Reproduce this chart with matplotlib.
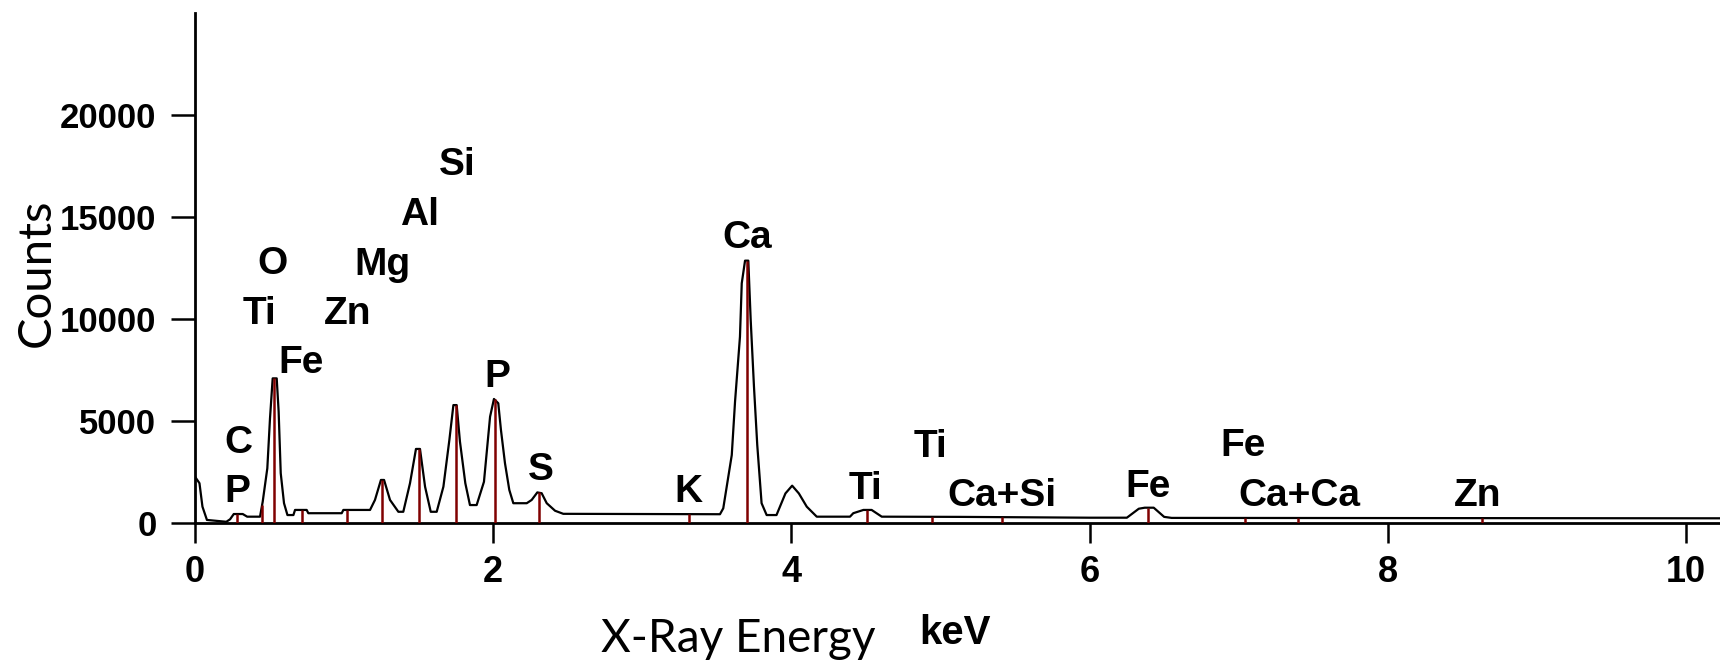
import matplotlib.pyplot as plt
from matplotlib import font_manager

# EDS spectrum
energy = [0.00, 0.03, 0.05, 0.08, 0.21, 0.235, 0.26, 0.32, 0.35, 0.436, 0.454, 0.485,
          0.503, 0.521, 0.548, 0.561, 0.575, 0.597, 0.62, 0.66, 0.671, 0.749, 0.76,
          0.984, 0.995, 1.174, 1.207, 1.247, 1.268, 1.308, 1.364, 1.397, 1.442, 1.482,
          1.509, 1.543, 1.581, 1.621, 1.666, 1.706, 1.733, 1.755, 1.777, 1.813, 1.844,
          1.889, 1.938, 1.979, 2.005, 2.034, 2.052, 2.079, 2.108, 2.135, 2.225, 2.258,
          2.296, 2.325, 2.359, 2.415, 2.47, 3.521, 3.543, 3.60, 3.622, 3.655, 3.667,
          3.689, 3.711, 3.727, 3.749, 3.771, 3.80, 3.834, 3.90, 3.96, 4.005, 4.05,
          4.103, 4.17, 4.393, 4.415, 4.483, 4.538, 4.606, 5.13, 6.0, 6.25, 6.33, 6.37,
          6.43, 6.50, 6.55, 10.3]
counts = [2270, 1950, 800, 150, 60, 180, 440, 440, 310, 310, 1040, 2680,
          5130, 7090, 7090, 5460, 2440, 970, 390, 390, 640, 640, 480,
          480, 640, 640, 1130, 2110, 2110, 1130, 550, 550, 1950, 3630,
          3630, 1780, 550, 550, 1780, 4070, 5780, 5780, 3990, 1950, 880,
          880, 2020, 5210, 6080, 5870, 4560, 2930, 1620, 970, 970, 1130,
          1500, 1460, 970, 600, 450, 430, 720, 3330, 5950, 9130, 11750,
          12860, 12860, 9950, 6680, 3820, 970, 390, 390, 1450, 1830, 1450,
          800, 310, 310, 480, 640, 640, 310, 300, 260, 260, 700, 750,
          750, 300, 250, 230]

# element marker lines (keV, top in counts)
line_kev = [0.28, 0.45, 0.53, 0.72, 1.02, 1.255, 1.50, 1.75, 2.01, 2.31, 3.31, 3.705,
            4.51, 4.94, 5.415, 6.395, 7.04, 7.40, 8.63]
line_top = [440, 900, 7090, 640, 640, 2110, 3630, 5780, 6080, 1500, 430, 12860,
            640, 310, 300, 750, 260, 260, 250]

# peak labels
label_text = ['C', 'P', 'O', 'Ti', 'Fe', 'Zn', 'Mg', 'Al', 'Si', 'P', 'S', 'K', 'Ca',
              'Ti', 'Ti', 'Ca+Si', 'Fe', 'Fe', 'Ca+Ca', 'Zn']
label_kev = [0.29, 0.285, 0.522, 0.43, 0.708, 1.024, 1.259, 1.504, 1.761, 2.027, 2.316,
             3.309, 3.702, 4.494, 4.935, 5.415, 6.39, 7.029, 7.405, 8.605]
label_cnt = [3420, 1040, 12200, 9750, 7350, 9750, 12160, 14610, 17060, 6680, 2110,
             1040, 13470, 1160, 3250, 830, 1290, 3280, 830, 830]

x_ticks = [0, 2, 4, 6, 8, 10]
y_ticks = [0, 5000, 10000, 15000, 20000]

names = {f.name for f in font_manager.fontManager.ttflist}
if 'Liberation Sans Narrow' in names:
    narrow, label_size, xtick_size = 'Liberation Sans Narrow', 32, 30
else:
    narrow, label_size, xtick_size = 'Liberation Sans', 28, 26

fig = plt.figure(figsize=(17.2, 6.66), dpi=100)
ax = fig.add_axes([195 / 1720, 143 / 666, 1525 / 1720, 510 / 666])

ax.plot(energy, counts, color='black', linewidth=1.6, zorder=2)
ax.vlines(line_kev, 0, line_top, colors='#800000', linewidth=1.8, zorder=3)

for t, x, y in zip(label_text, label_kev, label_cnt):
    ax.text(x, y, t, ha='center', va='baseline', fontsize=label_size,
            fontfamily=narrow, fontweight='bold')

ax.set_xlim(0, 10.228)
ax.set_ylim(0, 25000)
ax.spines['top'].set_visible(False)
ax.spines['right'].set_visible(False)
ax.spines['left'].set_linewidth(2)
ax.spines['bottom'].set_linewidth(2)

ax.set_xticks(x_ticks)
ax.set_yticks(y_ticks)
ax.set_xticklabels([str(v) for v in x_ticks], fontfamily=narrow, fontweight='bold',
                   fontsize=xtick_size)
ax.set_yticklabels([str(v) for v in y_ticks], fontfamily='Liberation Sans',
                   fontweight='bold', fontsize=25)
ax.tick_params(axis='x', length=14.4, width=1.8, pad=8.6)
ax.tick_params(axis='y', length=17, width=1.8, pad=10.8)

fig.text(37 / 1720, 393 / 666, 'Counts', rotation=90, ha='center', va='center',
         fontfamily='Lato', fontsize=34)
fig.text(738 / 1720, 14.3 / 666, 'X-Ray Energy', ha='center', va='baseline',
         fontfamily='Lato', fontsize=33)
fig.text(955 / 1720, 22 / 666, 'keV', ha='center', va='baseline',
         fontfamily='Liberation Sans', fontweight='bold', fontsize=29)

plt.savefig('out.png')
